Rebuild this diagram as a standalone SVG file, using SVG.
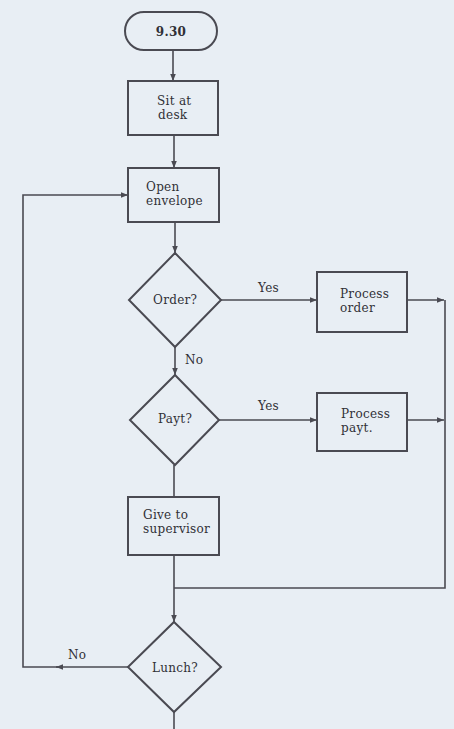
<svg xmlns="http://www.w3.org/2000/svg" width="454" height="729" viewBox="0 0 454 729">
<style>
.bg{fill:#e8eef4}
.shape{fill:none;stroke:#4a4a52;stroke-width:2}
.line{fill:none;stroke:#4a4a52;stroke-width:1.6}
.t{font-family:"DejaVu Serif","Liberation Serif",serif;font-size:12px;fill:#303036;letter-spacing:0.3px}
.b{font-weight:bold}
</style>
<defs>
<marker id="arr" viewBox="0 0 10 10" refX="10" refY="5" markerWidth="7" markerHeight="7" orient="auto" markerUnits="userSpaceOnUse">
<path d="M0,1 L10,5 L0,9 Z" fill="#4a4a52"/>
</marker>
</defs>
<rect class="bg" x="0" y="0" width="454" height="729"/>
<g id="connectors">
<line class="line" x1="173" y1="50" x2="173" y2="81" marker-end="url(#arr)"/>
<line class="line" x1="174" y1="135" x2="174" y2="168" marker-end="url(#arr)"/>
<line class="line" x1="175" y1="222" x2="175" y2="253" marker-end="url(#arr)"/>
<line class="line" x1="221" y1="300" x2="317" y2="300" marker-end="url(#arr)"/>
<line class="line" x1="407" y1="300" x2="444" y2="300" marker-end="url(#arr)"/>
<line class="line" x1="175" y1="347" x2="175" y2="375" marker-end="url(#arr)"/>
<line class="line" x1="219" y1="420" x2="317" y2="420" marker-end="url(#arr)"/>
<line class="line" x1="407" y1="420" x2="444" y2="420" marker-end="url(#arr)"/>
<polyline class="line" points="445,300 445,588 174,588"/>
<line class="line" x1="174" y1="465" x2="174" y2="497"/>
<line class="line" x1="174" y1="555" x2="174" y2="622" marker-end="url(#arr)"/>
<line class="line" x1="174" y1="712" x2="174" y2="729"/>
<line class="line" x1="128" y1="667" x2="56" y2="667" marker-end="url(#arr)"/>
<polyline class="line" points="58,667 23,667 23,195 128,195" marker-end="url(#arr)"/>
<text class="t" x="258" y="292">Yes</text>
<text class="t" x="258" y="410">Yes</text>
<text class="t" x="185" y="364">No</text>
<text class="t" x="68" y="659">No</text>
</g>
<g id="start">
<rect class="shape" x="125" y="12" width="92" height="38" rx="19"/>
<text class="t b" x="171" y="36" text-anchor="middle">9.30</text>
</g>
<g id="sit">
<rect class="shape" x="128" y="81" width="90" height="54"/>
<text class="t" x="157" y="105">Sit at</text>
<text class="t" x="158" y="119">desk</text>
</g>
<g id="open">
<rect class="shape" x="128" y="168" width="91" height="54"/>
<text class="t" x="146" y="191">Open</text>
<text class="t" x="146" y="205">envelope</text>
</g>
<g id="order">
<polygon class="shape" points="175,253 221,300 175,347 129,300"/>
<text class="t" x="153" y="304">Order?</text>
</g>
<g id="processorder">
<rect class="shape" x="317" y="272" width="90" height="60"/>
<text class="t" x="340" y="298">Process</text>
<text class="t" x="340" y="312">order</text>
</g>
<g id="payt">
<polygon class="shape" points="175,375 219,420 175,465 130,420"/>
<text class="t" x="158" y="423">Payt?</text>
</g>
<g id="processpayt">
<rect class="shape" x="317" y="393" width="90" height="58"/>
<text class="t" x="341" y="418">Process</text>
<text class="t" x="341" y="432">payt.</text>
</g>
<g id="give">
<rect class="shape" x="128" y="497" width="91" height="58"/>
<text class="t" x="143" y="519">Give to</text>
<text class="t" x="143" y="533">supervisor</text>
</g>
<g id="lunch">
<polygon class="shape" points="174,622 221,667 174,712 128,667"/>
<text class="t" x="152" y="672">Lunch?</text>
</g>
</svg>
